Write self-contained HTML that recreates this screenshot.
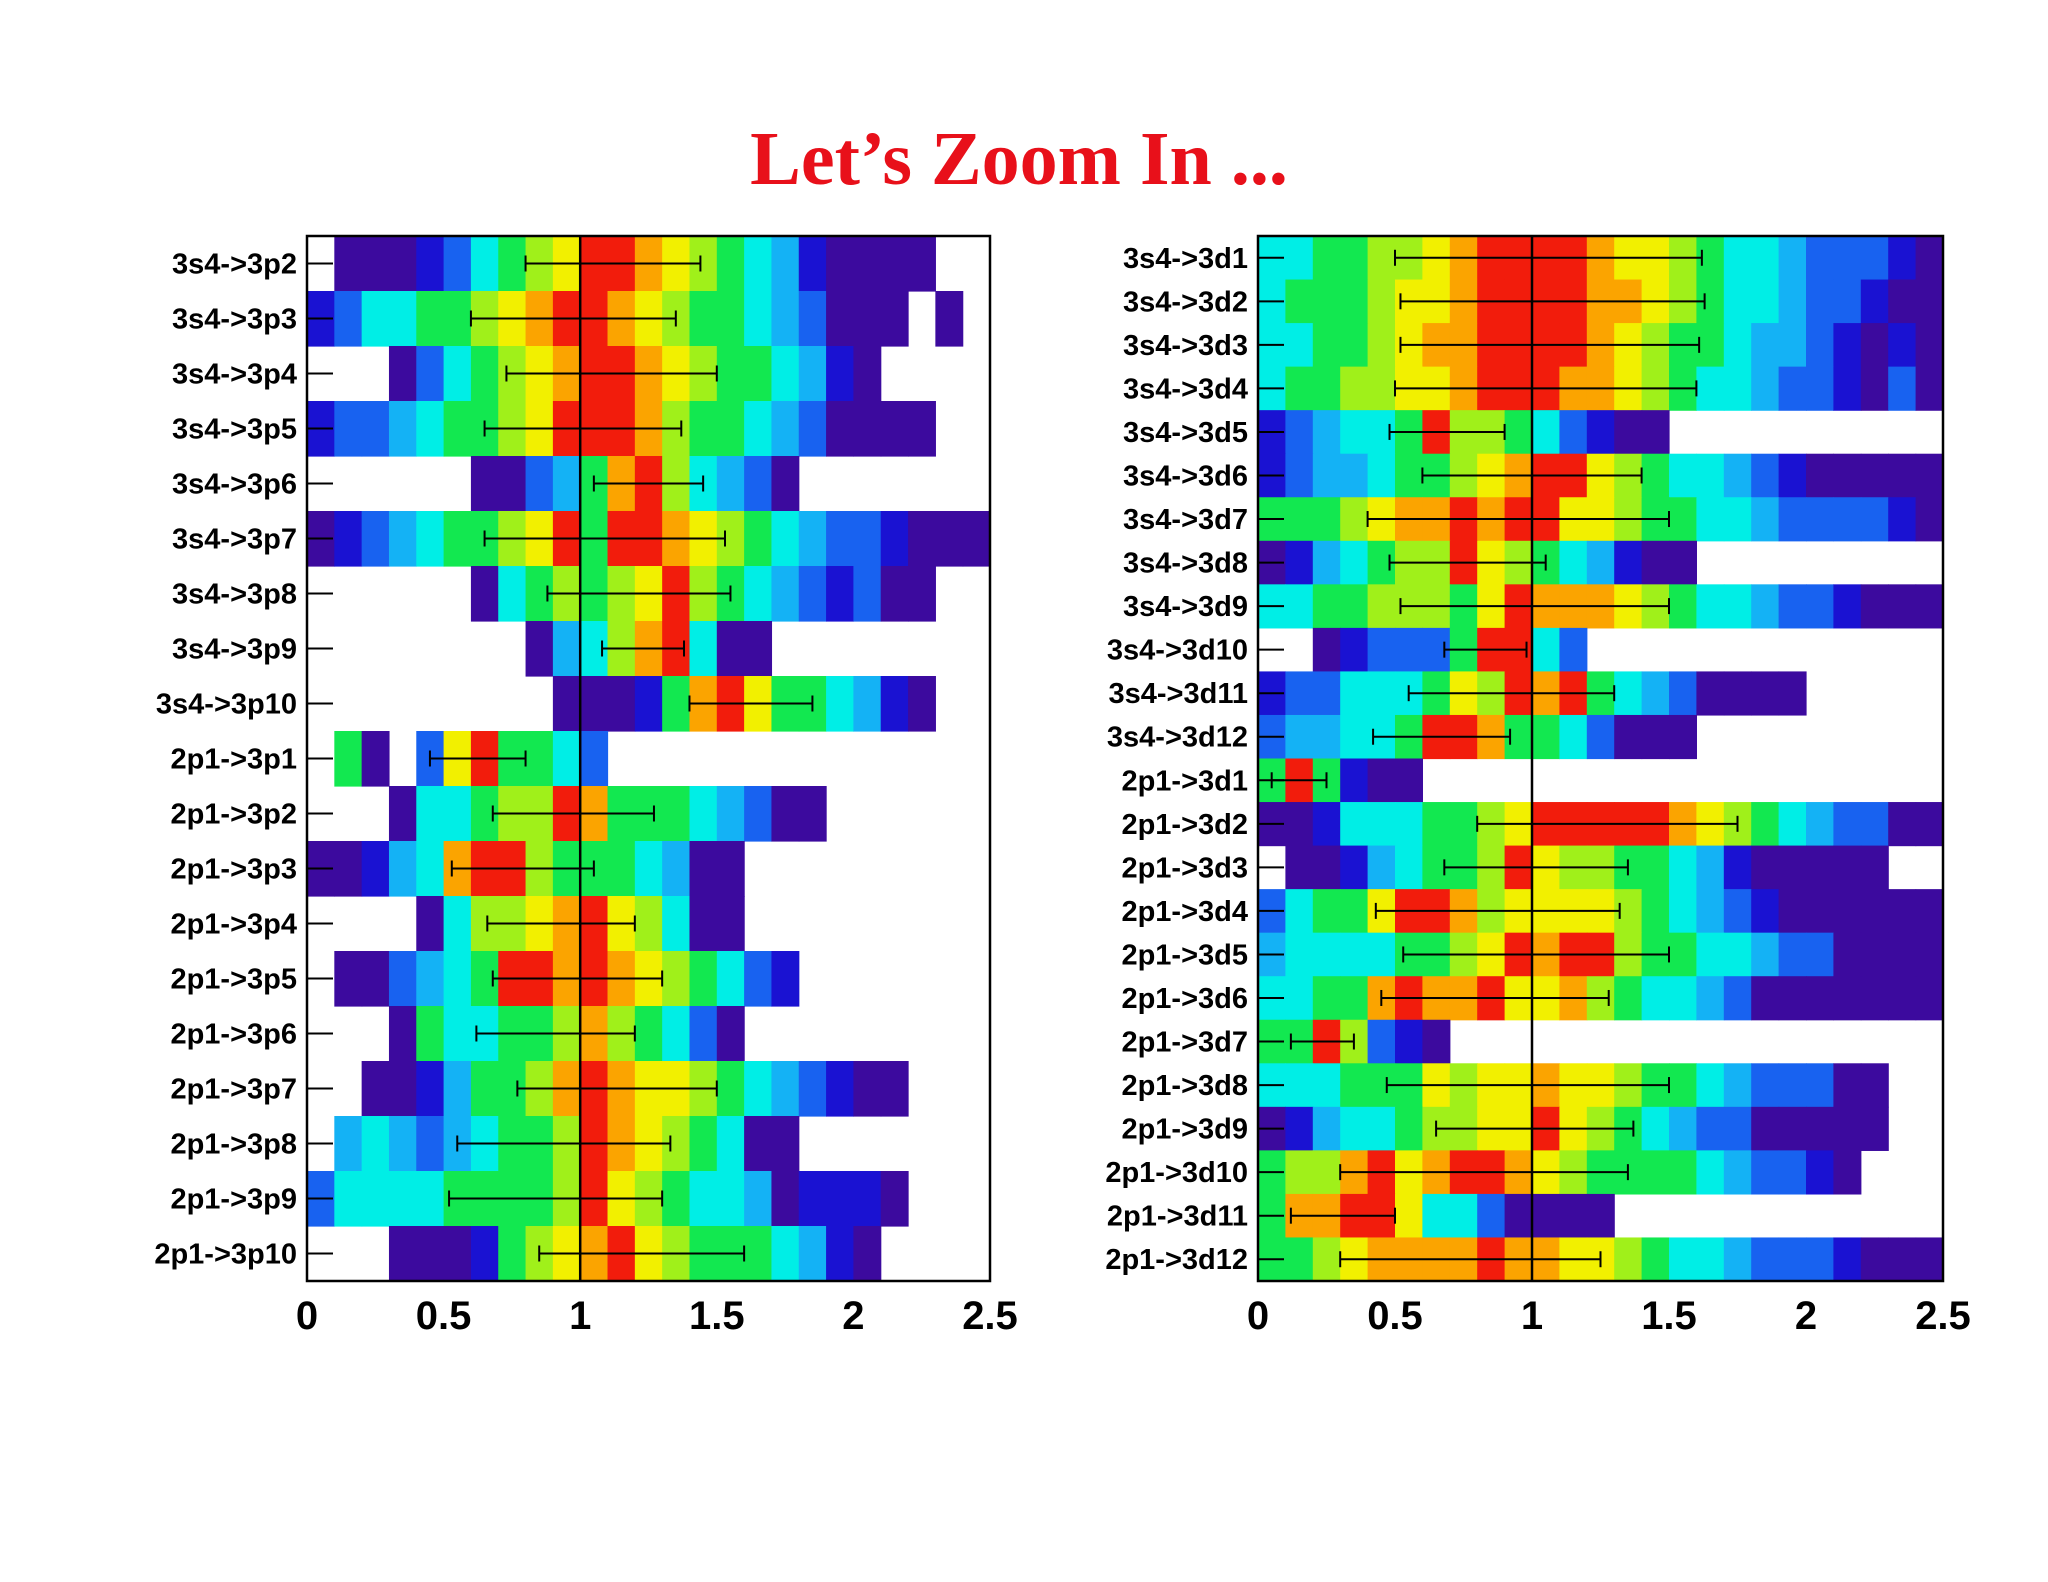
<!DOCTYPE html>
<html><head><meta charset="utf-8"><style>
html,body{margin:0;padding:0;background:#fff;}
svg{display:block;}
</style></head><body>
<svg id="chart" width="2048" height="1582" xmlns="http://www.w3.org/2000/svg">
<rect width="2048" height="1582" fill="#ffffff"/>
<text x="1019" y="184" text-anchor="middle" font-family="Liberation Serif, serif" font-weight="bold" font-size="76" fill="#e8101a">Let’s Zoom In ...</text>
</svg>
<script>
const leftLabels = ["3s4->3p2","3s4->3p3","3s4->3p4","3s4->3p5","3s4->3p6","3s4->3p7","3s4->3p8","3s4->3p9","3s4->3p10","2p1->3p1","2p1->3p2","2p1->3p3","2p1->3p4","2p1->3p5","2p1->3p6","2p1->3p7","2p1->3p8","2p1->3p9","2p1->3p10"];
const leftRows = [
".0001 24567 99876 54310 000..",
"12445 56789 98765 54320 00.0.",
"...02 45678 99876 55431 0....",
"12234 55679 99865 54320 000..",
"..... .0023 58964 320.. .....",
"01234 55679 59987 65432 21000",
"..... .0456 56796 54321 200..",
"..... ...03 46894 00... .....",
"..... ....0 00158 97554 310..",
".50.2 79554 2.... ..... .....",
"...04 45669 85554 3200. .....",
"00134 89965 55430 0.... .....",
"....0 46678 97640 0.... .....",
".0023 45998 98765 421.. .....",
"...05 44556 86542 0.... .....",
"..001 35568 98776 54321 00...",
".3432 34556 98765 400.. .....",
"24444 55556 97654 43011 10...",
"...00 01567 89765 55431 0...."];
const leftLow  = [0.80,0.60,0.73,0.65,1.05,0.65,0.88,1.08,1.40,0.45,0.68,0.53,0.66,0.68,0.62,0.77,0.55,0.52,0.85];
const leftHigh = [1.44,1.35,1.50,1.37,1.45,1.53,1.55,1.38,1.85,0.80,1.27,1.05,1.20,1.30,1.20,1.50,1.33,1.30,1.60];

const rightLabels = ["3s4->3d1","3s4->3d2","3s4->3d3","3s4->3d4","3s4->3d5","3s4->3d6","3s4->3d7","3s4->3d8","3s4->3d9","3s4->3d10","3s4->3d11","3s4->3d12","2p1->3d1","2p1->3d2","2p1->3d3","2p1->3d4","2p1->3d5","2p1->3d6","2p1->3d7","2p1->3d8","2p1->3d9","2p1->3d10","2p1->3d11","2p1->3d12"];
const rightRows = [
"44556 67899 99877 65443 22210",
"45556 77899 99887 65443 22100",
"44556 78899 99876 55433 21010",
"45566 77899 98876 54432 21020",
"12344 59665 42100 ..... .....",
"12334 55678 99765 44321 00000",
"55567 88989 97765 54432 22210",
"01345 66976 54310 0.... .....",
"44556 66579 88876 54432 21000",
"..012 22599 42... ..... .....",
"12244 45769 89543 20000 .....",
"23344 59985 54200 0.... .....",
"59510 0.... ..... ..... .....",
"00144 45567 99999 87654 32200",
".0013 45569 76655 43100 000..",
"24557 99867 77765 43210 00000",
"34444 55679 89965 54432 20000",
"44558 98897 78654 43200 00000",
"55962 10... ..... ..... .....",
"44455 57677 87765 54322 200..",
"01344 56677 97654 32200 000..",
"56689 78998 76555 54322 10...",
"58899 74420 000.. ..... .....",
"55678 88898 87765 44322 21000"];
const rightLow  = [0.50,0.52,0.52,0.50,0.48,0.60,0.40,0.48,0.52,0.68,0.55,0.42,0.05,0.80,0.68,0.43,0.53,0.45,0.12,0.47,0.65,0.30,0.12,0.30];
const rightHigh = [1.62,1.63,1.61,1.60,0.90,1.40,1.50,1.05,1.50,0.98,1.30,0.92,0.25,1.75,1.35,1.32,1.50,1.28,0.35,1.50,1.37,1.35,0.50,1.25];

const xTicks = [0,0.5,1,1.5,2,2.5];
const xTickLabels = ["0","0.5","1","1.5","2","2.5"];

const palette = ["#3c0a9e","#1a12d2","#1862f0","#14b2f5","#00eee6","#12e850","#a0f01a","#f2f000","#fba400","#f21c0c"];
const NS = "http://www.w3.org/2000/svg";
const svg = document.getElementById('chart');
function mk(tag, attrs, parent){
  const e = document.createElementNS(NS, tag);
  for (const k in attrs) e.setAttribute(k, attrs[k]);
  (parent||svg).appendChild(e);
  return e;
}
function drawPanel(name, x0, x1, y0, y1, labels, rows, lows, highs){
  const g = mk('g', {});
  
  
  const xs = v => x0 + (v/2.5)*(x1-x0);
  const n = rows.length, h = (y1-y0)/n;
  rows.forEach((r, i) => {
    const s = r.replace(/ /g,'');
    const bw = 0.1;
    for (let b=0; b<s.length; b++){
      const c = s[b];
      if (c === '.') continue;
      const cell = mk('rect', {x: xs(b*bw), y: y0+i*h, width: xs((b+1)*bw)-xs(b*bw)+0.6, height: h+0.6, fill: palette[+c]}, g);
      
      
    }
  });
  const vl = mk('line', {x1: xs(1), x2: xs(1), y1: y0, y2: y1, stroke: '#000', 'stroke-width': 2.5}, g);
  
  
  rows.forEach((r, i) => {
    const yc = y0 + (i+0.5)*h;
    const tk = mk('line', {x1: x0, x2: x0+26, y1: yc, y2: yc, stroke: '#000', 'stroke-width': 2}, g);
    
    
    const lb = mk('text', {x: x0-10, y: yc+10, 'text-anchor': 'end', 'font-family': 'Liberation Sans, sans-serif', 'font-weight': 'bold', 'font-size': 29, fill: '#000'}, g);
    lb.textContent = labels[i];
    
    
    const eb = mk('g', {stroke: '#000', 'stroke-width': 2}, g);
    
    
    mk('line', {x1: xs(lows[i]), x2: xs(highs[i]), y1: yc, y2: yc}, eb);
    mk('line', {x1: xs(lows[i]), x2: xs(lows[i]), y1: yc-8, y2: yc+8}, eb);
    mk('line', {x1: xs(highs[i]), x2: xs(highs[i]), y1: yc-8, y2: yc+8}, eb);
  });
  const fr = mk('rect', {x: x0, y: y0, width: x1-x0, height: y1-y0, fill: 'none', stroke: '#000', 'stroke-width': 2.5}, g);
  
  
  xTicks.forEach((t, k) => {
    const tl = mk('text', {x: xs(t), y: y1+48, 'text-anchor': 'middle', 'font-family': 'Liberation Sans, sans-serif', 'font-weight': 'bold', 'font-size': 40, fill: '#000'}, g);
    tl.textContent = xTickLabels[k];
    
    
  });
}
drawPanel('left-panel', 307, 990, 236, 1281, leftLabels, leftRows, leftLow, leftHigh);
drawPanel('right-panel', 1258, 1943, 236, 1281, rightLabels, rightRows, rightLow, rightHigh);
</script>
</body></html>
